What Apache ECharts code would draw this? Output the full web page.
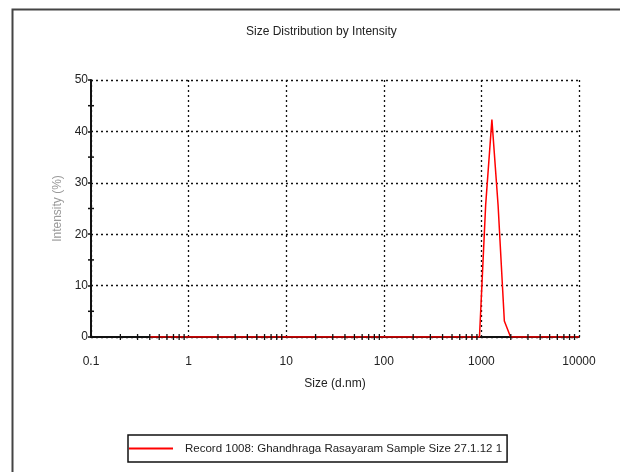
<!DOCTYPE html>
<html>
<head>
<meta charset="utf-8">
<script src="https://cdn.jsdelivr.net/npm/echarts@6/dist/echarts.min.js"></script>
<style>html,body{margin:0;padding:0;background:#fff}#c{width:620px;height:472px}</style>
</head>
<body>
<div id="c"></div>
<script>
// Size bins (d.nm) and intensity (%)
const sizes = [0.4, 0.4632, 0.5365, 0.6213, 0.7195, 0.8332, 0.9649, 1.117, 1.294, 1.499, 1.736, 2.010, 2.328, 2.696, 3.122, 3.615, 4.187, 4.849, 5.615, 6.503, 7.531, 8.721, 10.10, 11.70, 13.54, 15.69, 18.17, 21.04, 24.36, 28.21, 32.67, 37.84, 43.82, 50.75, 58.77, 68.06, 78.82, 91.28, 105.7, 122.4, 141.8, 164.2, 190.1, 220.2, 255.0, 295.3, 342.0, 396.1, 458.7, 531.2, 615.1, 712.4, 825.0, 955.4, 1106, 1281, 1484, 1718, 1990, 2305, 2669, 3091, 3580, 4145, 4801, 5560, 6439, 7456, 8635, 10000];
const intensity = [0,0,0,0,0,0,0,0,0,0,0,0,0,0,0,0,0,0,0,0,0,0,0,0,0,0,0,0,0,0,0,0,0,0,0,0,0,0,0,0,0,0,0,0,0,0,0,0,0,0,0,0,0,0,25.7,42.3,25.5,3.1,0,0,0,0,0,0,0,0,0,0,0,0];
const xTickLabels = ['0.1','1','10','100','1000','10000'];
const yTickLabels = ['0','10','20','30','40','50'];
const seriesName = 'Record 1008: Ghandhraga Rasayaram Sample Size 27.1.12 1';
const titleText = 'Size Distribution by Intensity';
const xName = 'Size (d.nm)';
const yName = 'Intensity (%)';
// axis decoration ticks (minor)
const xMinorTicks = [];
[0.1, 1, 10, 100, 1000].forEach(d => { for (let k = 2; k <= 9; k++) xMinorTicks.push(+(d * k).toPrecision(3)); });
const yMinorTicks = [5, 15, 25, 35, 45];

const FONT = "'Liberation Sans',Arial,sans-serif";
const chart = echarts.init(document.getElementById('c'), null, {renderer: 'canvas'});
const data = sizes.map((s, i) => [s, intensity[i]]);

chart.setOption({
  animation: false,
  backgroundColor: '#fff',
  title: {
    text: titleText, left: 246, top: 26, padding: 0,
    textStyle: {fontFamily: FONT, fontSize: 12, fontWeight: 'normal', color: '#222'}
  },
  graphic: [{
    type: 'rect', left: 10, top: 7, shape: {width: 700, height: 600},
    style: {fill: 'none', stroke: '#444', lineWidth: 2}, silent: true
  }],
  grid: {left: 91, right: 41, top: 80, bottom: 135, containLabel: false},
  legend: {
    left: 128, top: 435,
    data: [{name: seriesName, icon: 'rect'}],
    borderColor: '#111', borderWidth: 1.5, padding: [6, 5, 6, 1],
    itemWidth: 44, itemHeight: 2, itemGap: 0,
    itemStyle: {color: '#f00'},
    textStyle: {fontFamily: FONT, fontSize: 11.5, color: '#222', padding: [0, 0, 0, 7], lineHeight: 15}
  },
  xAxis: {
    type: 'log', logBase: 10, min: 0.1, max: 10000,
    name: xName, nameLocation: 'middle', nameGap: 41,
    nameTextStyle: {fontFamily: FONT, fontSize: 12, color: '#222'},
    axisLine: {show: true, onZero: false, lineStyle: {color: '#111', width: 2}},
    axisTick: {show: false},
    axisLabel: {
      fontFamily: FONT, fontSize: 12, color: '#222', margin: 19,
      formatter: v => { const i = Math.round(Math.log10(v)) + 1; return xTickLabels[i] ?? ''; }
    },
    splitLine: {show: true, lineStyle: {color: '#111', width: 1.3, type: [2, 3]}}
  },
  yAxis: {
    type: 'value', min: 0, max: 50, interval: 10,
    name: yName, nameLocation: 'middle', nameGap: 23,
    nameTextStyle: {fontFamily: FONT, fontSize: 12, color: '#999'},
    axisLine: {show: true, lineStyle: {color: '#111', width: 2}},
    axisTick: {show: true, inside: false, length: 3, lineStyle: {color: '#111', width: 1.5}},
    axisLabel: {
      fontFamily: FONT, fontSize: 12, color: '#222', margin: 3,
      formatter: v => yTickLabels[Math.round(v / 10)] ?? ''
    },
    splitLine: {show: true, lineStyle: {color: '#111', width: 1.3, type: [2, 3]}}
  },
  series: [{
    name: seriesName, type: 'line', data: data,
    showSymbol: false, symbol: 'none',
    lineStyle: {color: '#f00', width: 1.5}, itemStyle: {color: '#f00'}, z: 3
  }, {
    type: 'custom', silent: true, z: 5,
    data: xMinorTicks.map(v => [v, 0]),
    renderItem: (params, api) => {
      const p = api.coord([api.value(0), 0]);
      return {type: 'line', shape: {x1: p[0], y1: p[1] - 3, x2: p[0], y2: p[1] + 3},
        style: {stroke: '#111', lineWidth: 1.3}};
    }
  }, {
    type: 'custom', silent: true, z: 5,
    data: yMinorTicks.map(v => [0.1, v]),
    renderItem: (params, api) => {
      const p = api.coord([0.1, api.value(1)]);
      return {type: 'line', shape: {x1: p[0] - 3, y1: p[1], x2: p[0] + 3, y2: p[1]},
        style: {stroke: '#111', lineWidth: 1.5}};
    }
  }]
});
</script>
</body>
</html>
